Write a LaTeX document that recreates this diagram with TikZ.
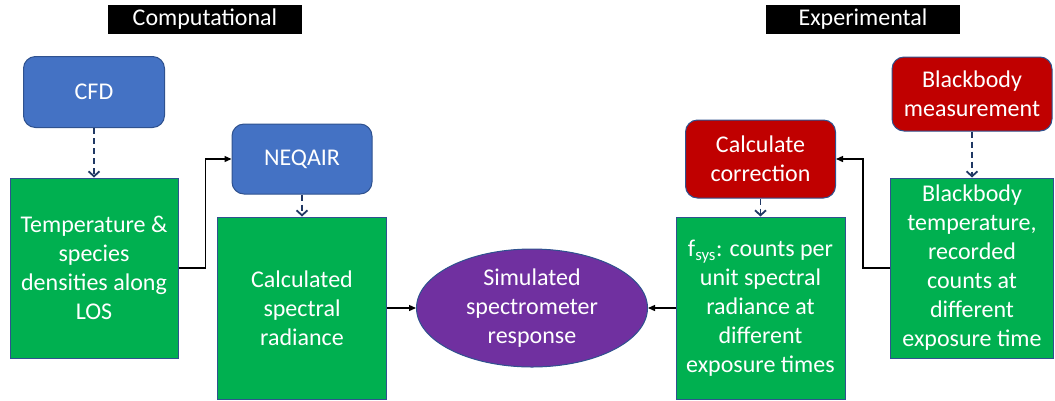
\documentclass[tikz,border=0pt]{standalone}
\usepackage{fontspec}
\setmainfont{Carlito}
\usetikzlibrary{arrows.meta,shapes.geometric}

\definecolor{boxblue}{RGB}{68,114,196}
\definecolor{boxgreen}{RGB}{0,176,80}
\definecolor{boxred}{RGB}{192,0,0}
\definecolor{boxpurple}{RGB}{112,48,160}
\definecolor{edgeblue}{RGB}{47,82,143}
\definecolor{dashnavy}{RGB}{32,56,100}

\tikzset{
	box/.style={draw=edgeblue, line width=1pt, text=white, align=center,
		font=\fontsize{24}{29}\selectfont, inner sep=0pt},
	tool/.style={box, rounded corners=12pt},
	data/.style={box, fill=boxgreen},
	heading/.style={fill=black, text=white, minimum width=194pt, minimum height=29pt,
		inner sep=0pt, font=\fontsize{24}{28}\selectfont},
	dashflow/.style={dashnavy, line width=1.8pt, dash pattern=on 6pt off 4pt,
		-{Straight Barb[length=5pt,width=11pt]}},
	flow/.style={black, line width=1.3pt, -{Triangle[length=7pt,width=6pt]}},
}

\begin{document}
\begin{tikzpicture}[x=1pt,y=-1pt]
			\useasboundingbox (0,0) rectangle (1055,400);

			\node[heading] (comp) at (205,19) {Computational};
			\node[heading] (expt) at (863,19) {Experimental};

			% computational side
			\node[tool, fill=boxblue, minimum width=141pt, minimum height=71pt] (cfd) at (94,92) {CFD};
			\node[data, minimum width=168pt, minimum height=180pt] (state) at (94,268)
				{Temperature \&\\species\\densities along\\LOS};
			\node[tool, fill=boxblue, minimum width=140pt, minimum height=70pt] (neqair) at (302,159) {NEQAIR};
			\node[data, minimum width=169pt, minimum height=182pt] (radiance) at (302,308)
				{Calculated\\spectral\\radiance};

			\node[box, ellipse, fill=boxpurple, minimum width=231pt, minimum height=118pt] (response) at (532,308)
				{Simulated\\spectrometer\\response};

			% experimental side
			\node[tool, fill=boxred, minimum width=150pt, minimum height=78pt] (correct) at (760.5,159)
				{Calculate\\correction};
			\node[data, minimum width=169pt, minimum height=182pt] (fsys) at (760.5,308)
				{f\textsubscript{sys}: counts per\\unit spectral\\radiance at\\different\\exposure times};
			\node[tool, fill=boxred, minimum width=160pt, minimum height=74pt] (bbmeas) at (972,94)
				{Blackbody\\measurement};
			\node[data, minimum width=163pt, minimum height=180pt] (bbdata) at (972,268)
				{Blackbody\\temperature,\\recorded\\counts at\\different\\exposure time};

			\draw[dashflow] (cfd) -- (state);
			\draw[flow] (state.east) -- ++(27,0) |- (neqair.west);
			\draw[dashflow] (neqair) -- (radiance);
			\draw[flow] (radiance) -- (response);

			\draw[flow] (fsys) -- (response);
			\draw[dashflow] (correct) -- (fsys);
			\draw[flow] (bbdata.west) -- ++(-27,0) |- (correct.east);
			\draw[dashflow] (bbmeas) -- (bbdata);
\end{tikzpicture}
\end{document}
